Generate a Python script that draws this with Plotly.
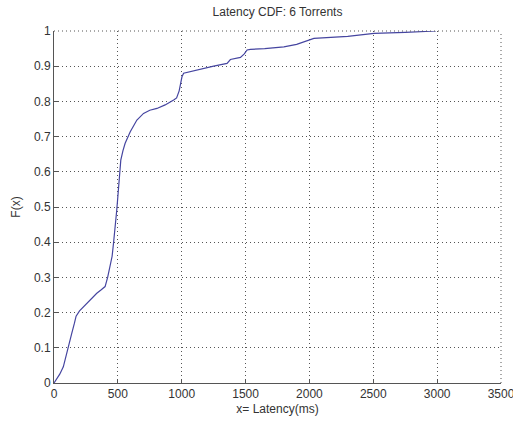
import plotly.graph_objects as go

# Empirical CDF of request latency across 6 torrents
latency_ms = [0, 20, 45, 73, 95, 112, 139, 160, 173, 200, 256, 300, 335, 370, 400,
              420, 440, 455, 466, 480, 491, 500, 510, 523, 540, 557, 597, 649, 701,
              750, 806, 870, 937, 960, 980, 1002, 1015, 1060, 1146, 1250, 1355, 1370,
              1381, 1460, 1490, 1512, 1538, 1650, 1800, 1900, 2009, 2035, 2300, 2506,
              2750, 2990]
cdf = [0, 0.01, 0.025, 0.046, 0.075, 0.103, 0.141, 0.17, 0.19, 0.205, 0.226, 0.242,
       0.255, 0.265, 0.274, 0.30, 0.33, 0.36, 0.397, 0.44, 0.49, 0.53, 0.567, 0.633,
       0.66, 0.681, 0.714, 0.747, 0.766, 0.775, 0.78, 0.79, 0.804, 0.81, 0.83, 0.87,
       0.88, 0.884, 0.891, 0.90, 0.908, 0.915, 0.919, 0.925, 0.935, 0.946, 0.948,
       0.95, 0.955, 0.962, 0.975, 0.979, 0.985, 0.993, 0.996, 1.0]

x_ticks = [0, 500, 1000, 1500, 2000, 2500, 3000, 3500]
y_ticks = [0, 0.1, 0.2, 0.3, 0.4, 0.5, 0.6, 0.7, 0.8, 0.9, 1]
y_tick_text = ["0", "0.1", "0.2", "0.3", "0.4", "0.5", "0.6", "0.7", "0.8", "0.9", "1"]

font = dict(family="Liberation Sans, Arial, sans-serif", size=12, color="#333333")
grid_dash = "1px,3px"
grid_color = "#555555"

fig = go.Figure()
fig.add_trace(go.Scatter(
    x=latency_ms, y=cdf, mode="lines",
    line=dict(color="#4545a0", width=1.2),
    showlegend=False,
))

axis_common = dict(
    showline=True, linecolor="#555555", linewidth=1,
    mirror=False,
    ticks="inside", ticklen=4, tickcolor="#555555",
    showgrid=True, gridcolor=grid_color, gridwidth=1, griddash=grid_dash,
    zeroline=False,
    tickfont=font,
    ticklabeloverflow="allow",
    automargin=False,
)

# dotted frame on the open top and right sides of the plot area
for x0, y0, x1, y1 in [(0, 1, 1, 1), (1, 0, 1, 1)]:
    fig.add_shape(type="line", xref="paper", yref="paper",
                  x0=x0, y0=y0, x1=x1, y1=y1,
                  line=dict(color=grid_color, width=1, dash=grid_dash))

fig.update_layout(
    width=513, height=421,
    margin=dict(l=54, r=12, t=31, b=38),
    paper_bgcolor="white", plot_bgcolor="white",
    font=font,
    title=dict(text="Latency CDF: 6 Torrents", x=0.541, xanchor="center",
               y=0.972, yanchor="middle", font=dict(size=12, color="#333333",
               family="Liberation Sans, Arial, sans-serif")),
    xaxis=dict(range=[0, 3500], tickvals=x_ticks,
               title=dict(text="x= Latency(ms)", standoff=4, font=font),
               **axis_common),
    yaxis=dict(range=[0, 1], tickvals=y_ticks, ticktext=y_tick_text,
               title=dict(text="F(x)", standoff=10, font=font),
               **axis_common),
)

fig.write_html("out.html")
